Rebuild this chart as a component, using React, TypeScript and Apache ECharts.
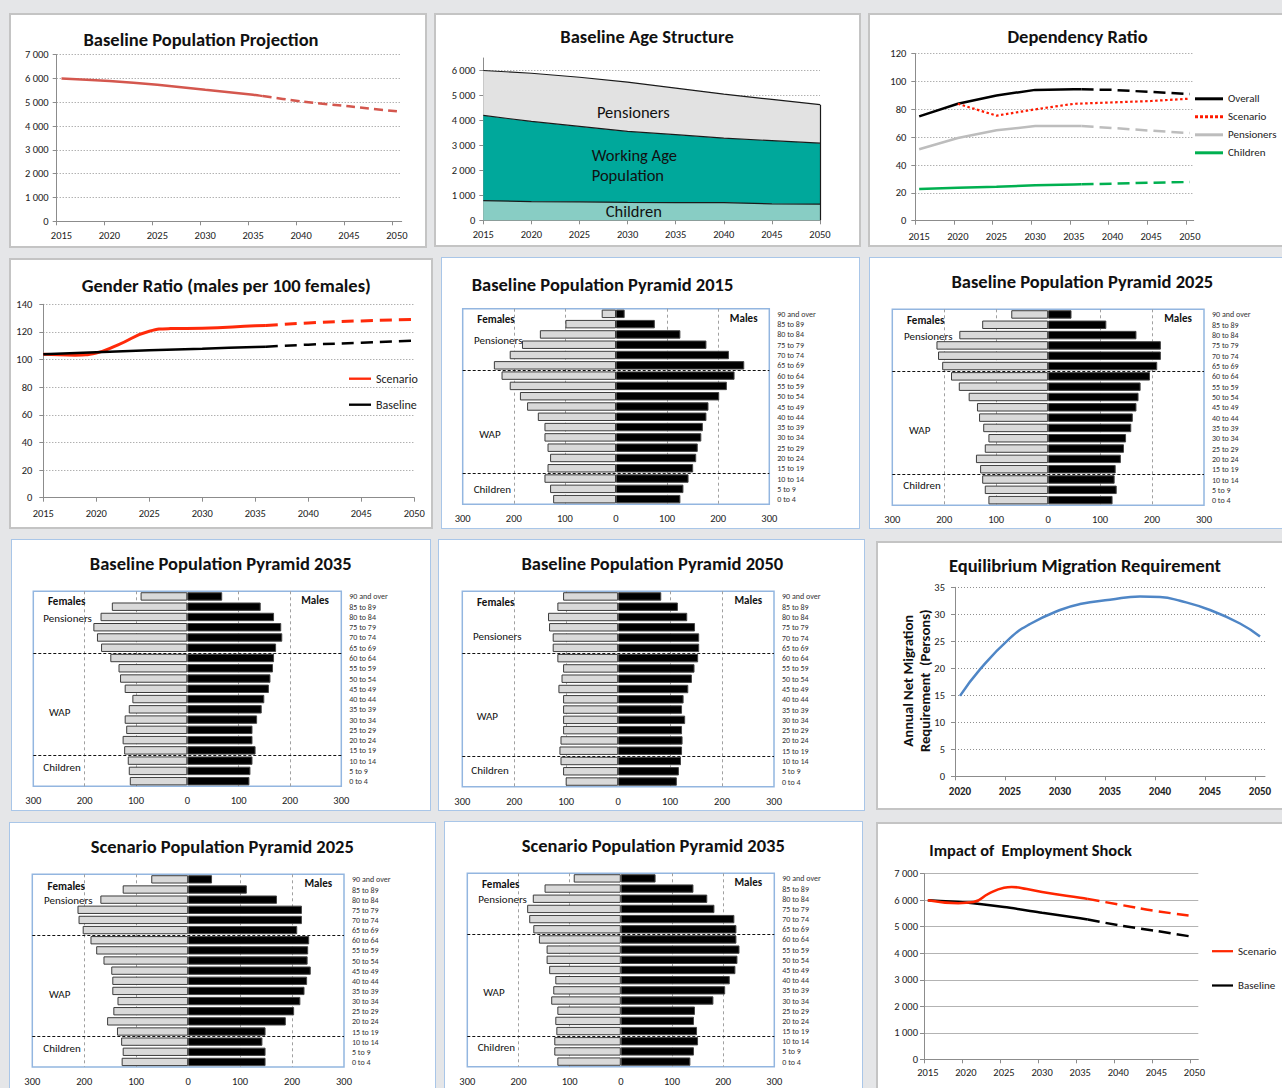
import React, { useEffect, useRef } from "react";
import * as echarts from "echarts";

const FONT = "Carlito, Lato, 'Open Sans', sans-serif";

// ================= DATA =================
const labelYears = [2015, 2020, 2025, 2030, 2035, 2040, 2045, 2050];
const migLabelYears = [2020, 2025, 2030, 2035, 2040, 2045, 2050];
const SPLIT_YEAR = 2036;

// Baseline Population Projection
const popYears = [2015, 2020, 2025, 2030, 2035, 2036, 2040, 2045, 2050];
const basePop = [6000, 5900, 5740, 5530, 5320, 5260, 5040, 4830, 4620];

// Baseline Age Structure
const ageYears = [2015, 2020, 2025, 2030, 2035, 2040, 2045, 2050];
const children = [790, 750, 740, 720, 710, 710, 660, 650];
const workingAge = [3410, 3210, 3020, 2840, 2720, 2580, 2530, 2440];
const pensioners = [1800, 1930, 1970, 1970, 1860, 1760, 1650, 1540];

// Dependency Ratio
const depYears = [2015, 2020, 2025, 2030, 2035, 2036, 2040, 2045, 2050];
const depOverall = [75, 84, 90, 94, 94.4, 94.4, 94, 92.5, 91];
const depPensioners = [51.3, 59.4, 65, 68, 68, 68, 66.6, 64.7, 63];
const depChildren = [22.8, 23.7, 24.4, 25.4, 26.1, 26.2, 26.6, 27.3, 27.8];
const depScenYears = [2020, 2025, 2030, 2035, 2040, 2045, 2050];
const depScenario = [84, 75.5, 80, 84, 85, 86, 87.7];

// Gender Ratio
const genScenYears = [2015, 2018, 2020, 2022, 2025, 2027, 2030, 2035, 2036, 2040, 2045, 2050];
const genScenario = [103.8, 103.2, 104.8, 110.5, 120.5, 122.4, 122.6, 124.4, 124.6, 126.5, 128, 129];
const genBaseYears = [2015, 2020, 2025, 2030, 2035, 2036, 2040, 2045, 2050];
const genBaseline = [103.8, 105.3, 106.7, 107.9, 109.1, 109.3, 110.8, 112.2, 113.7];

// Equilibrium Migration Requirement
const migYears = [2020, 2022, 2025, 2027, 2030, 2032, 2035, 2038, 2040, 2042, 2045, 2048, 2050];
const migRequirement = [14.9, 19.8, 25.6, 28.2, 30.8, 31.9, 32.7, 33.3, 33.2, 32.5, 30.8, 28.3, 25.9];

// Impact of Employment Shock
const empScenYears = [2015, 2019, 2021, 2023, 2025, 2026, 2028, 2030, 2035, 2036, 2040, 2045, 2050];
const empScenario = [6000, 5890, 5930, 6250, 6470, 6500, 6420, 6310, 6090, 6050, 5840, 5590, 5400];
const empBaseYears = [2015, 2020, 2025, 2030, 2035, 2036, 2040, 2045, 2050];
const empBaseline = [6000, 5910, 5740, 5530, 5320, 5270, 5060, 4840, 4610];

// Population pyramids (bottom "0 to 4" -> top "90 and over")
const ageGroups = [
  "0 to 4", "5 to 9", "10 to 14", "15 to 19", "20 to 24", "25 to 29", "30 to 34",
  "35 to 39", "40 to 44", "45 to 49", "50 to 54", "55 to 59", "60 to 64", "65 to 69",
  "70 to 74", "75 to 79", "80 to 84", "85 to 89", "90 and over",
];
const females2015 = [123, 129, 140, 134, 129, 134, 140, 140, 153, 174, 188, 208, 224, 239, 208, 184, 149, 99, 28];
const males2015 = [126, 132, 142, 151, 157, 160, 167, 170, 177, 181, 202, 217, 232, 251, 221, 177, 126, 76, 17];
const females2025 = [115, 122, 127, 131, 139, 122, 115, 125, 133, 137, 153, 172, 187, 204, 212, 215, 171, 127, 71];
const males2025 = [124, 132, 128, 130, 140, 146, 150, 160, 163, 170, 174, 178, 196, 210, 217, 217, 170, 112, 45];
const females2035 = [112, 114, 116, 123, 126, 119, 122, 114, 107, 122, 131, 134, 150, 168, 176, 183, 169, 147, 91];
const males2035 = [121, 123, 127, 133, 127, 127, 136, 145, 150, 159, 162, 167, 169, 173, 185, 183, 169, 143, 68];
const females2050 = [101, 106, 111, 113, 111, 106, 106, 106, 106, 115, 109, 106, 117, 126, 126, 133, 135, 117, 106];
const males2050 = [113, 117, 121, 123, 124, 123, 129, 123, 126, 135, 142, 147, 154, 156, 156, 148, 133, 115, 83];
const scenFemales2025 = [128, 126, 129, 137, 156, 144, 136, 146, 146, 148, 163, 177, 188, 203, 211, 213, 169, 126, 71];
const scenMales2025 = [149, 149, 143, 149, 188, 204, 216, 224, 229, 236, 230, 231, 233, 210, 219, 219, 171, 113, 46];
const scenFemales2035 = [124, 130, 130, 126, 128, 124, 136, 132, 128, 140, 145, 145, 160, 171, 179, 183, 172, 149, 92];
const scenMales2035 = [136, 143, 151, 149, 143, 145, 181, 204, 213, 224, 228, 232, 226, 226, 222, 183, 169, 142, 68];

// ================= LAYOUT / STYLE =================
type Box = { x: number; y: number; w: number; h: number; c: string; bw: number };
const GRAY = "#c4c4c4";
const BLUE = "#a9c6e8";
const B1: Box = { x: 9, y: 13, w: 418, h: 235, c: GRAY, bw: 2 };
const B2: Box = { x: 434, y: 13, w: 427, h: 234, c: GRAY, bw: 2 };
const B3: Box = { x: 868, y: 13, w: 422, h: 234, c: GRAY, bw: 2 };
const B4: Box = { x: 9, y: 258, w: 424, h: 271, c: GRAY, bw: 2 };
const B5: Box = { x: 441, y: 257, w: 419, h: 272, c: BLUE, bw: 1.5 };
const B6: Box = { x: 869, y: 257, w: 421, h: 272, c: BLUE, bw: 1.5 };
const B7: Box = { x: 11, y: 539, w: 420, h: 272, c: BLUE, bw: 1.5 };
const B8: Box = { x: 438, y: 539, w: 427, h: 272, c: BLUE, bw: 1.5 };
const B9: Box = { x: 876, y: 541, w: 414, h: 269, c: GRAY, bw: 2 };
const B10: Box = { x: 9, y: 822, w: 427, h: 272, c: BLUE, bw: 1.5 };
const B11: Box = { x: 444, y: 821, w: 419, h: 272, c: BLUE, bw: 1.5 };
const B12: Box = { x: 876, y: 822, w: 414, h: 272, c: GRAY, bw: 2 };

const TITLE = 18.5;
const AXIS = { color: "#8c8c8c", width: 1 };
const DOTTED = { color: "#8f8f8f", width: 1, type: [1, 2] };
const SOLID_ICON = "path://M0,0H28V3H0Z";
const DOT_ICON = "path://M0,0h3v3h-3z M5,0h3v3h-3z M10,0h3v3h-3z M15,0h3v3h-3z M20,0h3v3h-3z M25,0h3v3h-3z";

const G = (b: Box, x1: number, y1: number, x2: number, y2: number, extra: any = {}) => ({
  left: x1 - b.x, top: y1 - b.y, width: x2 - x1, height: y2 - y1, outerBoundsMode: "none", ...extra,
});

const T = (b: Box, x: number, y: number, text: string, size: number, weight: any = "normal", align = "center", extra: any = {}, lh?: number) => ({
  type: "text", x: x - b.x, y: y - b.y, z: 100, silent: true, ...extra,
  style: { text, fontFamily: FONT, fontSize: size, fontWeight: weight, fill: "#111", align, verticalAlign: "middle", lineHeight: lh ?? size * 1.15 },
});

const thousands = (v: number) => (v >= 1000 ? `${Math.floor(v / 1000)} ${String(v % 1000).padStart(3, "0")}` : String(v));

function yearAxis(labels: number[], between: boolean, margin = 9, bold = false) {
  const pad = between ? 0.5 : 0;
  return {
    type: "value", min: labels[0] - pad, max: labels[labels.length - 1] + pad,
    axisLine: { show: true, onZero: false, lineStyle: AXIS },
    axisTick: { show: true, length: 4, customValues: labels.map((v) => v - pad), lineStyle: AXIS },
    axisLabel: { customValues: labels, formatter: (v: number) => String(v), fontFamily: FONT, fontSize: bold ? 11 : 10.5, fontWeight: bold ? "bold" : "normal", color: "#222", margin },
    splitLine: { show: false },
  };
}

function valAxis(max: number, interval: number, o: any = {}) {
  return {
    type: "value", min: 0, max, interval,
    axisLine: { show: true, onZero: false, lineStyle: AXIS },
    axisTick: { show: true, length: 4, lineStyle: AXIS },
    axisLabel: { formatter: o.fmt ?? ((v: number) => String(v)), fontFamily: FONT, fontSize: 10.5, color: "#222", margin: o.margin ?? 8, showMaxLabel: o.showMaxLabel },
    splitLine: { show: true, showMinLine: false, showMaxLine: o.showMaxLine ?? true, lineStyle: o.grid ?? DOTTED },
  };
}

function seg(name: string, xs: number[], ys: number[], color: string, width: number, type: any, from: number, to: number, smooth: any = false) {
  const data = xs.map((x, i) => [x, ys[i]]).filter((p) => p[0] >= from && p[0] <= to);
  return { name, type: "line", data, symbol: "none", showSymbol: false, smooth, lineStyle: { color, width, type }, itemStyle: { color }, emphasis: { disabled: true } };
}

function legend(b: Box, x: number, yFirst: number, items: any[], gap: number, iw: number, size = 11) {
  return {
    data: items, orient: "vertical", left: x - b.x, top: yFirst - 7 - b.y, itemWidth: iw, itemHeight: 14, itemGap: gap, padding: 0,
    selectedMode: false, textStyle: { fontFamily: FONT, fontSize: size, color: "#222" },
  };
}

// ================= OPTIONS =================
function opt1(b: Box) {
  const red = "#d4574e";
  return {
    animation: false,
    grid: G(b, 56.7, 54.7, 401.7, 221.3),
    xAxis: yearAxis(labelYears, true, 9),
    yAxis: valAxis(7000, 1000, { fmt: thousands, margin: 8 }),
    series: [
      seg("Baseline", popYears, basePop, red, 2.5, "solid", 2015, SPLIT_YEAR, 0.2),
      seg("Baseline", popYears, basePop, red, 2.5, [9, 5], SPLIT_YEAR, 2050, 0.2),
    ],
    graphic: [T(b, 201, 39.7, "Baseline Population Projection", TITLE, "bold")],
  };
}

function opt2(b: Box) {
  const area = (name: string, vals: number[], color: string) => ({
    name, type: "line", stack: "age", data: vals, symbol: "none",
    lineStyle: { color: "#1a1a1a", width: 1.2 }, areaStyle: { color, opacity: 1 }, emphasis: { disabled: true },
  });
  const last = ageYears.length - 1;
  const total = children[last] + workingAge[last] + pensioners[last];
  const childSeries: any = area("Children", children, "#88cdc4");
  childSeries.markLine = {
    silent: true, symbol: "none", label: { show: false }, lineStyle: { color: "#1a1a1a", width: 1.2, type: "solid" },
    data: [[{ coord: [String(ageYears[last]), 0] }, { coord: [String(ageYears[last]), total] }]],
  };
  return {
    animation: false,
    grid: G(b, 483.3, 58, 820, 220.3),
    xAxis: {
      type: "category", data: ageYears.map(String), boundaryGap: false,
      axisLine: { show: true, onZero: false, lineStyle: AXIS },
      axisTick: { show: true, length: 4, lineStyle: AXIS },
      axisLabel: { fontFamily: FONT, fontSize: 10.5, color: "#222", margin: 9 },
      splitLine: { show: false },
    },
    yAxis: valAxis(6500, 1000, { fmt: thousands, margin: 8, showMaxLabel: false, showMaxLine: false }),
    series: [childSeries, area("Working Age Population", workingAge, "#00a89b"), area("Pensioners", pensioners, "#e2e2e2")],
    graphic: [
      T(b, 647, 36.3, "Baseline Age Structure", TITLE, "bold"),
      T(b, 633.3, 112, "Pensioners", 16.5),
      T(b, 591.7, 154.7, "Working Age", 16.5, "normal", "left"),
      T(b, 591.7, 174.7, "Population", 16.5, "normal", "left"),
      T(b, 633.8, 211, "Children", 16.5),
    ],
  };
}

function opt3(b: Box) {
  const dash = [12, 6];
  return {
    animation: false,
    grid: G(b, 915.3, 53.7, 1193.7, 220.7),
    xAxis: yearAxis(labelYears, true, 10),
    yAxis: valAxis(120, 20, { margin: 9 }),
    legend: legend(b, 1195, 100.3, [
      { name: "Overall", icon: SOLID_ICON },
      { name: "Scenario", icon: DOT_ICON },
      { name: "Pensioners", icon: SOLID_ICON },
      { name: "Children", icon: SOLID_ICON },
    ], 7, 28, 11),
    series: [
      seg("Overall", depYears, depOverall, "#000000", 2.5, "solid", 2015, SPLIT_YEAR),
      seg("Scenario", depScenYears, depScenario, "#ff1a00", 2.2, [2.5, 2.5], 2015, 2050),
      seg("Pensioners", depYears, depPensioners, "#bdbdbd", 2.5, "solid", 2015, SPLIT_YEAR),
      seg("Children", depYears, depChildren, "#00b050", 2.5, "solid", 2015, SPLIT_YEAR),
      seg("Overall", depYears, depOverall, "#000000", 2.5, dash, SPLIT_YEAR, 2050),
      seg("Pensioners", depYears, depPensioners, "#bdbdbd", 2.5, dash, SPLIT_YEAR, 2050),
      seg("Children", depYears, depChildren, "#00b050", 2.5, dash, SPLIT_YEAR, 2050),
    ],
    graphic: [T(b, 1077.5, 36.3, "Dependency Ratio", TITLE, "bold")],
  };
}

function opt4(b: Box) {
  const dash = [12, 7];
  const red = "#ff2a0a";
  return {
    animation: false,
    grid: G(b, 43.3, 304.3, 414.3, 497.7),
    xAxis: yearAxis(labelYears, false, 10),
    yAxis: valAxis(140, 20, { margin: 11 }),
    legend: legend(b, 349, 379.7, [
      { name: "Scenario", icon: SOLID_ICON },
      { name: "Baseline", icon: SOLID_ICON },
    ], 14, 22, 12),
    series: [
      seg("Scenario", genScenYears, genScenario, red, 3, "solid", 2015, SPLIT_YEAR, true),
      seg("Baseline", genBaseYears, genBaseline, "#000000", 2.5, "solid", 2015, SPLIT_YEAR, true),
      seg("Scenario", genScenYears, genScenario, red, 3, dash, SPLIT_YEAR, 2050, true),
      seg("Baseline", genBaseYears, genBaseline, "#000000", 2.5, dash, SPLIT_YEAR, 2050, true),
    ],
    graphic: [T(b, 226.3, 285.3, "Gender Ratio (males per 100 females)", TITLE, "bold")],
  };
}

function opt9(b: Box) {
  return {
    animation: false,
    grid: G(b, 955, 587.3, 1265, 776.3),
    xAxis: yearAxis(migLabelYears, true, 10, true),
    yAxis: valAxis(35, 5, { margin: 10 }),
    series: [seg("Annual Net Migration Requirement", migYears, migRequirement, "#4f86c6", 2.5, "solid", 2020, 2050, true)],
    graphic: [
      T(b, 1085, 565, "Equilibrium Migration Requirement", TITLE, "bold"),
      T(b, 916.7, 680.7, "Annual Net Migration\nRequirement  (Persons)", 14.7, "bold", "center", { rotation: Math.PI / 2 }, 16.7),
    ],
  };
}

function opt12(b: Box) {
  const red = "#ff2600";
  const dash = [12, 6];
  return {
    animation: false,
    grid: G(b, 924, 873.7, 1198.3, 1059.3),
    xAxis: yearAxis(labelYears, true, 8),
    yAxis: valAxis(7000, 1000, { fmt: thousands, margin: 6, grid: { color: "#b3b3b3", width: 1, type: "solid" } }),
    legend: legend(b, 1212, 952.7, [
      { name: "Scenario", icon: SOLID_ICON },
      { name: "Baseline", icon: SOLID_ICON },
    ], 23.3, 21, 11),
    series: [
      seg("Baseline", empBaseYears, empBaseline, "#000000", 2.5, "solid", 2015, SPLIT_YEAR, 0.3),
      seg("Scenario", empScenYears, empScenario, red, 2.5, "solid", 2015, SPLIT_YEAR, true),
      seg("Baseline", empBaseYears, empBaseline, "#000000", 2.5, dash, SPLIT_YEAR, 2050, 0.3),
      seg("Scenario", empScenYears, empScenario, red, 2.5, dash, SPLIT_YEAR, 2050, true),
    ],
    graphic: [T(b, 929.3, 850.3, "Impact of  Employment Shock", 16.4, "bold", "left")],
  };
}

function pyramid(b: Box, cfg: any) {
  const [x1, y1, x2, y2] = cfg.plot;
  const lab = cfg.lab;
  const b65 = ageGroups.indexOf("65 to 69") - 0.5;
  const b15 = ageGroups.indexOf("15 to 19") - 0.5;
  return {
    animation: false,
    grid: G(b, x1, y1, x2, y2, { show: true, borderColor: "#93b6e0", borderWidth: 1.5, backgroundColor: "transparent" }),
    xAxis: {
      type: "value", min: -300, max: 300, interval: 100,
      axisLine: { show: false }, axisTick: { show: false },
      axisLabel: { formatter: (v: number) => String(Math.abs(v)), fontFamily: FONT, fontSize: 10.5, color: "#222", margin: 9 },
      splitLine: { show: true, showMinLine: false, showMaxLine: false, lineStyle: { color: ["#a0a0a0", "#a0a0a0", "rgba(0,0,0,0)", "#a0a0a0", "#a0a0a0"], width: 1, type: [3, 3] } },
    },
    yAxis: [
      {
        type: "category", data: ageGroups, position: "right",
        axisLine: { show: false, onZero: false }, axisTick: { show: false }, splitLine: { show: false },
        axisLabel: { interval: 0, fontFamily: FONT, fontSize: 8, color: "#333", margin: 8 },
      },
      { type: "value", min: -0.5, max: ageGroups.length - 0.5, show: false },
    ],
    series: [
      { name: "Females", type: "bar", stack: "pop", data: cfg.fem.map((v: number) => -v), barCategoryGap: "18%", itemStyle: { color: "#d9d9d9", borderColor: "#3c3c3c", borderWidth: 1 }, emphasis: { disabled: true } },
      { name: "Males", type: "bar", stack: "pop", data: cfg.mal, barCategoryGap: "18%", itemStyle: { color: "#000000", borderColor: "#444444", borderWidth: 1 }, emphasis: { disabled: true } },
      {
        name: "Groups", type: "line", yAxisIndex: 1, data: [], symbol: "none",
        markLine: { silent: true, symbol: "none", label: { show: false }, lineStyle: { color: "#111", width: 1, type: [3, 2] }, data: [{ yAxis: b65 }, { yAxis: b15 }] },
      },
    ],
    graphic: [
      T(b, cfg.t[0], cfg.t[1], cfg.title, TITLE, "bold"),
      T(b, lab.Females[0], lab.Females[1], "Females", 11, "bold"),
      T(b, lab.Males[0], lab.Males[1], "Males", 11, "bold"),
      T(b, lab.Pensioners[0], lab.Pensioners[1], "Pensioners", 11, "normal", "left"),
      T(b, lab.WAP[0], lab.WAP[1], "WAP", 11, "normal", "left"),
      T(b, lab.Children[0], lab.Children[1], "Children", 11, "normal", "left"),
    ],
  };
}

const PYRAMIDS = [
  { box: B5, title: "Baseline Population Pyramid 2015", t: [602.5, 284.3], plot: [462.7, 308.7, 769.3, 504.3], fem: females2015, mal: males2015,
    lab: { Females: [496, 319.7], Males: [743.7, 318], Pensioners: [474, 340], WAP: [479.3, 434.7], Children: [473.7, 489.7] } },
  { box: B6, title: "Baseline Population Pyramid 2025", t: [1082.3, 281.3], plot: [892.3, 309.3, 1204, 505.3], fem: females2025, mal: males2025,
    lab: { Females: [925.7, 320.3], Males: [1178, 318.7], Pensioners: [904, 336], WAP: [909, 430.3], Children: [903.3, 485.3] } },
  { box: B7, title: "Baseline Population Pyramid 2035", t: [220.7, 563], plot: [33.3, 591.3, 341.3, 786.3], fem: females2035, mal: males2035,
    lab: { Females: [66.7, 601.7], Males: [315, 600], Pensioners: [43.3, 618.3], WAP: [49, 712.3], Children: [43.3, 767.3] } },
  { box: B8, title: "Baseline Population Pyramid 2050", t: [652.3, 563.3], plot: [462.3, 591.3, 774, 786.7], fem: females2050, mal: males2050,
    lab: { Females: [495.7, 602.3], Males: [748.3, 600.7], Pensioners: [473, 636.7], WAP: [476.7, 716.7], Children: [471.3, 770.7] } },
  { box: B10, title: "Scenario Population Pyramid 2025", t: [222.3, 846.7], plot: [32.3, 874.3, 344, 1067], fem: scenFemales2025, mal: scenMales2025,
    lab: { Females: [66.3, 886], Males: [318.3, 883.7], Pensioners: [44, 900.3], WAP: [49, 994.3], Children: [43.3, 1048.3] } },
  { box: B11, title: "Scenario Population Pyramid 2035", t: [653.3, 845.3], plot: [467.3, 873.3, 774.3, 1066.7], fem: scenFemales2035, mal: scenMales2035,
    lab: { Females: [500.7, 884.3], Males: [748.3, 882.7], Pensioners: [478.3, 899.3], WAP: [483.3, 992.7], Children: [477.7, 1047] } },
];

// ================= COMPONENTS =================
function Panel({ box, option }: { box: Box; option: any }) {
  const ref = useRef<HTMLDivElement>(null);
  useEffect(() => {
    if (!ref.current) return;
    const chart = echarts.init(ref.current, null, { renderer: "svg" });
    chart.setOption(option);
    return () => chart.dispose();
  }, []);
  return (
    <>
      <div style={{ position: "absolute", left: box.x, top: box.y, width: box.w, height: box.h, background: "#fff", border: `${box.bw}px solid ${box.c}`, boxSizing: "border-box" }} />
      <div ref={ref} style={{ position: "absolute", left: box.x, top: box.y, width: box.w, height: box.h }} />
    </>
  );
}

export default function App() {
  const panels: { box: Box; option: any }[] = [
    { box: B1, option: opt1(B1) },
    { box: B2, option: opt2(B2) },
    { box: B3, option: opt3(B3) },
    { box: B4, option: opt4(B4) },
    ...PYRAMIDS.map((p) => ({ box: p.box, option: pyramid(p.box, p) })),
    { box: B9, option: opt9(B9) },
    { box: B12, option: opt12(B12) },
  ];
  return (
    <div style={{ position: "fixed", left: 0, top: 0, width: 1282, height: 1088, background: "#e5e6e8", overflow: "hidden", fontFamily: FONT }}>
      {panels.map((p, i) => (
        <Panel key={i} box={p.box} option={p.option} />
      ))}
    </div>
  );
}
